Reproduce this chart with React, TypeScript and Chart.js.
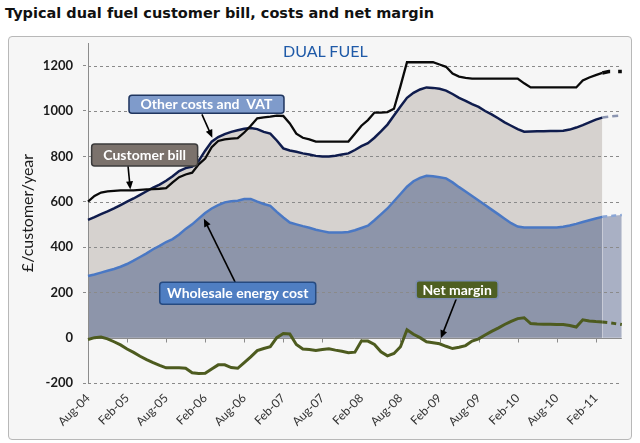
import React, { useEffect, useRef } from "react";
import { Chart, registerables } from "chart.js";

Chart.register(...registerables);

// ---- categories (monthly, Aug-04 .. Jun-11) ----
const months = [
  "Aug-04", "Sep-04", "Oct-04", "Nov-04", "Dec-04", "Jan-05",
  "Feb-05", "Mar-05", "Apr-05", "May-05", "Jun-05", "Jul-05",
  "Aug-05", "Sep-05", "Oct-05", "Nov-05", "Dec-05", "Jan-06",
  "Feb-06", "Mar-06", "Apr-06", "May-06", "Jun-06", "Jul-06",
  "Aug-06", "Sep-06", "Oct-06", "Nov-06", "Dec-06", "Jan-07",
  "Feb-07", "Mar-07", "Apr-07", "May-07", "Jun-07", "Jul-07",
  "Aug-07", "Sep-07", "Oct-07", "Nov-07", "Dec-07", "Jan-08",
  "Feb-08", "Mar-08", "Apr-08", "May-08", "Jun-08", "Jul-08",
  "Aug-08", "Sep-08", "Oct-08", "Nov-08", "Dec-08", "Jan-09",
  "Feb-09", "Mar-09", "Apr-09", "May-09", "Jun-09", "Jul-09",
  "Aug-09", "Sep-09", "Oct-09", "Nov-09", "Dec-09", "Jan-10",
  "Feb-10", "Mar-10", "Apr-10", "May-10", "Jun-10", "Jul-10",
  "Aug-10", "Sep-10", "Oct-10", "Nov-10", "Dec-10", "Jan-11",
  "Feb-11", "Mar-11", "Apr-11", "May-11", "Jun-11",
];

// ---- actual series (Aug-04 .. Mar-11) ----
const customerBill = [
  600, 625, 640, 645, 648, 650, 650, 650, 652, 654,
  655, 657, 660, 685, 708, 720, 728, 765, 790, 840,
  868, 875, 878, 880, 905, 935, 968, 972, 975, 980,
  978, 945, 900, 882, 875, 865, 865, 865, 865, 865,
  865, 900, 935, 960, 993, 993, 995, 1010, 1110, 1215,
  1215, 1215, 1215, 1215, 1205, 1195, 1165, 1152, 1146, 1143,
  1143, 1143, 1143, 1143, 1143, 1143, 1143, 1122, 1104, 1104,
  1104, 1104, 1104, 1104, 1104, 1104, 1135, 1148, 1158, 1168,
];
const totalCost = [
  520, 532, 545, 557, 570, 585, 600, 614, 630, 646,
  662, 675, 692, 712, 735, 748, 755, 780, 825, 865,
  885, 898, 908, 915, 922, 925, 920, 908, 900, 870,
  835, 826, 820, 813, 808, 802, 799, 799, 803, 808,
  813, 828, 845, 858, 882, 910, 940, 980, 1020, 1058,
  1080, 1095, 1104, 1102, 1098, 1090, 1075, 1058, 1045, 1030,
  1018, 1000, 985, 968, 950, 935, 920, 909, 910, 911,
  911, 912, 912, 913, 918, 927, 938, 950, 962, 971,
];
const wholesaleCost = [
  272, 279, 287, 295, 303, 313, 325, 340, 356, 372,
  390, 405, 422, 435, 455, 480, 500, 525, 550, 570,
  585, 597, 602, 604, 612, 612, 600, 590, 582, 555,
  530, 508, 500, 492, 485, 476, 470, 464, 464, 464,
  466, 474, 484, 494, 518, 544, 570, 602, 634, 666,
  690, 705, 714, 712, 708, 703, 685, 664, 645, 625,
  605, 585, 565, 545, 525, 505, 490, 486, 486, 486,
  486, 486, 486, 489, 495, 502, 510, 518, 526, 533,
];
const netMargin = [
  -8, 0, 3, -5, -18, -32, -50, -65, -82, -97,
  -110, -122, -133, -133, -133, -135, -155, -158, -157, -138,
  -120, -120, -132, -135, -110, -85, -57, -48, -40, 0,
  18, 16, -30, -50, -52, -57, -52, -49, -55, -60,
  -66, -64, -15, -15, -30, -62, -80, -70, -40, 35,
  15, 0, -18, -22, -27, -38, -48, -42, -35, -15,
  -5, 12, 28, 42, 58, 72, 84, 88, 62, 60,
  59, 59, 58, 58, 54, 47, 79, 74, 71, 69,
];

// ---- projections (Mar-11 .. Jun-11) ----
const billProjection = [1168, 1174, 1174, 1174];
const totalCostProjection = [971, 975, 978, 980];
const wholesaleProjection = [533, 536, 539, 541];
const marginProjection = [69, 66, 62, 58];

// ---- axis ----
const yMin = -200;
const yMax = 1300;
const yStep = 200;
const labelEvery = 6;

// ---- callouts (anchored in data coordinates) ----
const callouts = [
  { text: "Other costs and  VAT", at: [18.2, 1030], w: 155, h: 18, fill: "#7f9bcb", stroke: "#1f355f", from: [17.5, 985], to: [19.1, 882] },
  { text: "Customer bill", at: [8.7, 806], w: 106, h: 22, fill: "#7b726c", stroke: "#3b3b3b", from: [6.15, 757], to: [6.5, 654] },
  { text: "Wholesale energy cost", at: [23, 196], w: 156, h: 22, fill: "#4f7ec2", stroke: "#264a80", from: [22.6, 245], to: [17.8, 525] },
  { text: "Net margin", at: [56.7, 211], w: 82, h: 18, fill: "#4e5f22", stroke: "#7c8db0", from: [56.6, 173], to: [54.2, -3] },
];

const projStart = customerBill.length - 1;
const padActual = (arr: number[]) => months.map((_, i) => (i < arr.length ? arr[i] : null));
const padProj = (arr: number[]) => months.map((_, i) => (i >= projStart && i - projStart < arr.length ? arr[i - projStart] : null));

const overlayPlugin = {
  id: "overlay",
  beforeDatasetsDraw(chart: any) {
    const { ctx, chartArea: a, scales } = chart;
    const x = scales.x;
    const y = scales.y;
    ctx.save();
    // dashed gridlines above fills
    ctx.strokeStyle = "#8a8a8a";
    ctx.lineWidth = 1;
    ctx.setLineDash([3, 3]);
    y.ticks.forEach((t: any) => {
      if (t.value === 0 || t.value === yMax) return;
      const py = Math.round(y.getPixelForValue(t.value)) + 0.5;
      ctx.beginPath();
      ctx.moveTo(a.left, py);
      ctx.lineTo(a.right, py);
      ctx.stroke();
    });
    ctx.setLineDash([]);
    // vertical axis
    ctx.strokeStyle = "#8c8c8c";
    const ax = Math.round(a.left) + 0.5;
    ctx.beginPath();
    ctx.moveTo(ax, a.top);
    ctx.lineTo(ax, a.bottom);
    ctx.stroke();
    // horizontal axis at zero with tick marks
    const y0 = Math.round(y.getPixelForValue(0)) + 0.5;
    ctx.beginPath();
    ctx.moveTo(a.left, y0);
    ctx.lineTo(a.right, y0);
    ctx.stroke();
    months.forEach((_, i) => {
      if (i % labelEvery !== 0) return;
      const px = Math.round(x.getPixelForValue(i)) + 0.5;
      ctx.beginPath();
      ctx.moveTo(px, y0);
      ctx.lineTo(px, y0 + 4);
      ctx.stroke();
    });
    ctx.restore();
  },
  afterDatasetsDraw(chart: any) {
    const { ctx, scales } = chart;
    const x = scales.x;
    const y = scales.y;
    ctx.save();
    callouts.forEach((c) => {
      // arrow
      const fx = x.getPixelForValue(c.from[0]);
      const fy = y.getPixelForValue(c.from[1]);
      const tx = x.getPixelForValue(c.to[0]);
      const ty = y.getPixelForValue(c.to[1]);
      const ang = Math.atan2(ty - fy, tx - fx);
      const hl = 8;
      const hw = 3.5;
      ctx.strokeStyle = "#000";
      ctx.fillStyle = "#000";
      ctx.lineWidth = 1.6;
      ctx.beginPath();
      ctx.moveTo(fx, fy);
      ctx.lineTo(tx - Math.cos(ang) * hl * 0.8, ty - Math.sin(ang) * hl * 0.8);
      ctx.stroke();
      ctx.beginPath();
      ctx.moveTo(tx, ty);
      ctx.lineTo(tx - Math.cos(ang) * hl + Math.sin(ang) * hw, ty - Math.sin(ang) * hl - Math.cos(ang) * hw);
      ctx.lineTo(tx - Math.cos(ang) * hl - Math.sin(ang) * hw, ty - Math.sin(ang) * hl + Math.cos(ang) * hw);
      ctx.closePath();
      ctx.fill();
      // box
      const cx = x.getPixelForValue(c.at[0]);
      const cy = y.getPixelForValue(c.at[1]);
      const bx = cx - c.w / 2;
      const by = cy - c.h / 2;
      ctx.beginPath();
      ctx.roundRect(bx, by, c.w, c.h, 3);
      ctx.fillStyle = c.fill;
      ctx.fill();
      ctx.lineWidth = 1.5;
      ctx.strokeStyle = c.stroke;
      ctx.stroke();
      ctx.fillStyle = "#ffffff";
      ctx.font = "bold 14px Lato";
      ctx.textAlign = "center";
      ctx.textBaseline = "middle";
      ctx.fillText(c.text, cx, cy + 0.5);
    });
    ctx.restore();
  },
};

export default function App() {
  const canvasRef = useRef<HTMLCanvasElement | null>(null);

  useEffect(() => {
    const canvas = canvasRef.current;
    if (!canvas) return;
    const chart = new Chart(canvas, {
      type: "line",
      data: {
        labels: months,
        datasets: [
          { label: "Customer bill", data: padActual(customerBill), borderColor: "#0a0a0a", borderWidth: 2.3, pointRadius: 0, fill: false, order: 0 },
          { label: "Customer bill (projection)", data: padProj(billProjection), borderColor: "#0a0a0a", borderWidth: 3.5, borderDash: [8, 8], pointRadius: 0, fill: false, order: 1 },
          { label: "Net margin", data: padActual(netMargin), borderColor: "#4d5b1f", borderWidth: 3, pointRadius: 0, fill: false, order: 2 },
          { label: "Net margin (projection)", data: padProj(marginProjection), borderColor: "#4d5b1f", borderWidth: 3, borderDash: [5, 4], pointRadius: 0, fill: false, order: 3 },
          { label: "Wholesale energy cost", data: padActual(wholesaleCost), borderColor: "#4a78c4", backgroundColor: "#8d95aa", borderWidth: 2.5, pointRadius: 0, fill: "origin", order: 4 },
          { label: "Wholesale (projection)", data: padProj(wholesaleProjection), borderColor: "#8aa6d6", backgroundColor: "#a9b0c4", borderWidth: 2.5, borderDash: [5, 4], pointRadius: 0, fill: "origin", order: 5 },
          { label: "Other costs and VAT", data: padActual(totalCost), borderColor: "#0f1c4d", backgroundColor: "#d6d2cf", borderWidth: 2.5, pointRadius: 0, fill: "origin", order: 6 },
          { label: "Other costs (projection)", data: padProj(totalCostProjection), borderColor: "#8a94b0", borderWidth: 2.5, borderDash: [6, 4], pointRadius: 0, fill: false, order: 7 },
        ],
      },
      options: {
        responsive: false,
        animation: false,
        layout: { padding: { left: 0, right: 18, top: 43, bottom: 0 } },
        plugins: {
          legend: { display: false },
          tooltip: { enabled: false },
          filler: { drawTime: "beforeDatasetsDraw" },
        },
        scales: {
          x: {
            type: "category",
            offset: false,
            grid: { display: false, drawTicks: false },
            border: { display: false },
            ticks: {
              autoSkip: false,
              maxRotation: 45,
              minRotation: 45,
              padding: 8,
              color: "#333",
              font: { family: "Lato", size: 12 },
              callback: (_v: any, i: number) => (i % labelEvery === 0 ? months[i] : ""),
            },
            afterFit: (s: any) => { s.height = 60; },
          },
          y: {
            min: yMin,
            max: yMax,
            border: { display: false },
            grid: {
              drawOnChartArea: false,
              drawTicks: true,
              tickLength: 5,
              tickBorderDash: [3, 3],
              tickColor: (c: any) => (c.tick && (c.tick.value === yMax || c.tick.value === 0) ? "rgba(0,0,0,0)" : "#8a8a8a"),
            },
            ticks: {
              stepSize: yStep,
              padding: 10,
              color: "#1a1a1a",
              font: { family: "Lato", size: 13, weight: "bold" },
              callback: (v: any) => (v === yMax ? "" : String(v)),
            },
            title: {
              display: true,
              text: "£/customer/year",
              color: "#1a1a1a",
              font: { family: "Lato", size: 16 },
              padding: { top: 18, bottom: 0 },
            },
            afterFit: (s: any) => { s.width = 88; },
          },
        },
      },
      plugins: [overlayPlugin],
    } as any);
    return () => chart.destroy();
  }, []);

  return (
    <div style={{ position: "fixed", left: 0, top: 0, width: 640, height: 443, background: "#ffffff", overflow: "hidden" }}>
      <div style={{ position: "absolute", left: 5, top: 5, font: "bold 14.5px 'DejaVu Sans'", color: "#111", whiteSpace: "nowrap" }}>
        Typical dual fuel customer bill, costs and net margin
      </div>
      <div style={{ position: "absolute", left: 8, top: 36, width: 622, height: 402, border: "1px solid #b8b8b8", borderRadius: 4, background: "#f6f6f6" }} />
      <canvas ref={canvasRef} width={640} height={443} style={{ position: "absolute", left: 0, top: 0 }} />
      <div style={{ position: "absolute", left: 283, top: 41, font: "16px Lato", color: "#1f5aa8", whiteSpace: "nowrap" }}>
        DUAL FUEL
      </div>
    </div>
  );
}
